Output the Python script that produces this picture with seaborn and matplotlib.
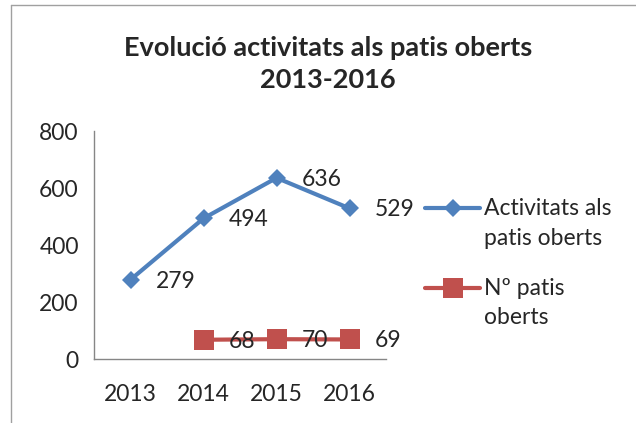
import pandas as pd
import matplotlib.pyplot as plt
import seaborn as sns
from matplotlib.lines import Line2D

# Data
years = [2013, 2014, 2015, 2016]
activitats = [279, 494, 636, 529]
patis_years = [2014, 2015, 2016]
patis = [68, 70, 69]
serie_names = ['Activitats als\npatis oberts', 'Nº patis\noberts']

blue = '#4F81BD'
red = '#C0504D'
fs = 16.5

sns.set_style('white')
plt.rcParams['font.family'] = ['Lato', 'DejaVu Sans']

fig = plt.figure(figsize=(6.36, 4.23), dpi=100)
ax = fig.add_axes([0.148, 0.151, 0.459, 0.539])

df_act = pd.DataFrame({'year': years, 'value': activitats})
df_pat = pd.DataFrame({'year': patis_years, 'value': patis})

sns.lineplot(x='year', y='value', data=df_act, color=blue, linewidth=3,
             marker='D', markersize=9.5, markeredgewidth=0, ax=ax)
sns.lineplot(x='year', y='value', data=df_pat, color=red, linewidth=3,
             marker='s', markersize=14, markeredgewidth=0, ax=ax)

# Data labels to the right of each point
for x, y in zip(years, activitats):
    ax.annotate(str(y), (x, y), xytext=(18, -1), textcoords='offset points',
                ha='left', va='center', fontsize=fs)
for x, y in zip(patis_years, patis):
    ax.annotate(str(y), (x, y), xytext=(18, -1), textcoords='offset points',
                ha='left', va='center', fontsize=fs)

ax.set_xlim(2012.5, 2016.5)
ax.set_ylim(0, 800)
ax.set_yticks([0, 200, 400, 600, 800])
ax.set_xticks(years)
ax.set_xticks([2012.5, 2013.5, 2014.5, 2015.5, 2016.5], minor=True)
ax.tick_params(axis='x', which='major', length=0, pad=18, labelsize=fs)
ax.tick_params(axis='x', which='minor', length=6, width=1, color='#868686', direction='out')
ax.tick_params(axis='y', length=6, width=1, color='#868686', direction='out', labelsize=fs, pad=5)
ax.set_xlabel('')
ax.set_ylabel('')
sns.despine(ax=ax)
for side in ['left', 'bottom']:
    ax.spines[side].set_color('#868686')
    ax.spines[side].set_linewidth(1)

# Title
fig.text(0.516, 1 - 64 / 423, 'Evolució activitats als patis oberts\n2013-2016',
         ha='center', va='center', fontsize=19.5, fontweight='bold', linespacing=1.35)

# Legend drawn by hand so the handle lines up with the first text line
W, H = 636, 423
for name, color, marker, msize, yc in [(serie_names[0], blue, 'D', 9.5, 208),
                                        (serie_names[1], red, 's', 14, 288)]:
    fig.add_artist(Line2D([425 / W, 480 / W], [1 - yc / H, 1 - yc / H], color=color, lw=3))
    fig.add_artist(Line2D([452.5 / W], [1 - yc / H], color=color, marker=marker,
                          markersize=msize, markeredgewidth=0))
    fig.text(484 / W, 1 - (yc - 10) / H, name, ha='left', va='top', fontsize=fs,
             linespacing=1.5)

# Chart border (left and top edges visible)
fig.add_artist(Line2D([11 / W, 11 / W], [0, 1 - 5 / H], color='#a0a0a0', lw=1))
fig.add_artist(Line2D([11 / W, 1], [1 - 5 / H, 1 - 5 / H], color='#a0a0a0', lw=1))

fig.savefig('out.png', dpi=100)
